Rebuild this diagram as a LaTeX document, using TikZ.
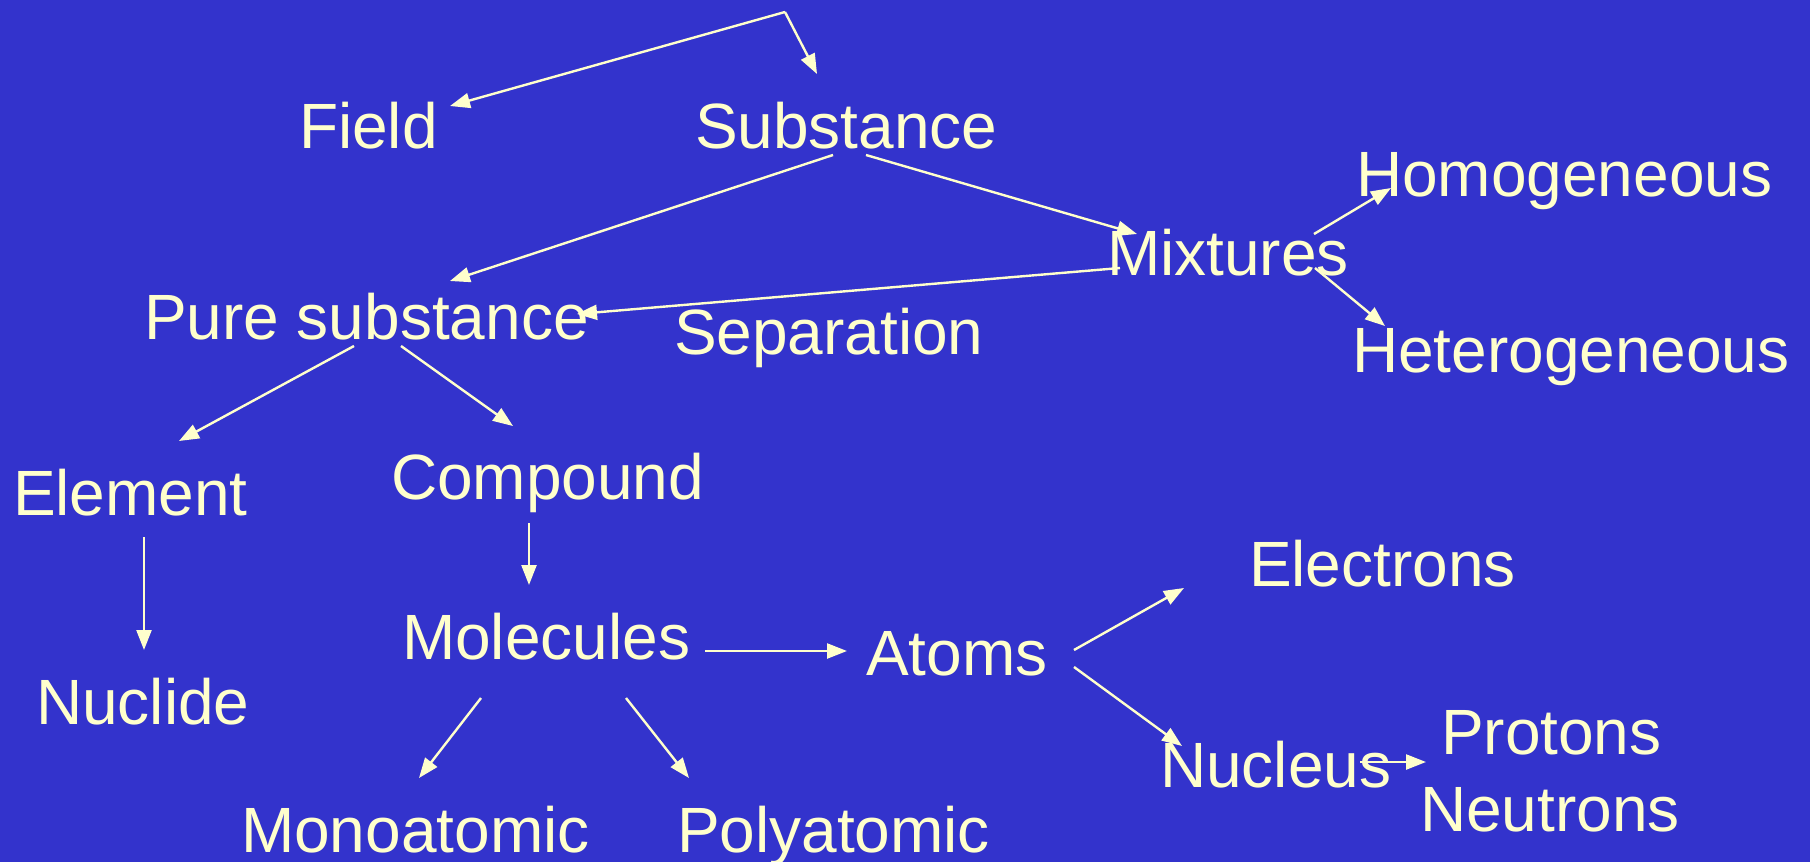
\documentclass[tikz,border=0pt]{standalone}
\usepackage{fontspec}
\setmainfont{Liberation Sans}
\usetikzlibrary{arrows.meta}
\definecolor{bgblue}{HTML}{3333CC}
\definecolor{txtyellow}{HTML}{FFFFCC}
\begin{document}
\begin{tikzpicture}[x=1pt,y=-1pt,
  lbl/.style={anchor=base west,inner sep=0pt,outer sep=0pt,text=txtyellow,
    font=\fontsize{64}{70}\selectfont},
  conn/.style={draw=txtyellow,line width=2.4pt,-{Triangle[length=20pt,width=15pt]}}]
\fill[bgblue] (0,0) rectangle (1810,862);
\useasboundingbox (0,0) rectangle (1810,862);
\node[lbl] (field) at (299,148) {Field};
\node[lbl] (sub) at (695,148) {Substance};
\node[lbl] (homo) at (1356,196) {Homogeneous};
\node[lbl] (mix) at (1107,275) {Mixtures};
\node[lbl] (hetero) at (1352,372) {Heterogeneous};
\node[lbl] (pure) at (144,339) {Pure substance};
\node[lbl] (sep) at (674,354) {Separation};
\node[lbl] (elem) at (13,515) {Element};
\node[lbl] (comp) at (391,499) {Compound};
\node[lbl] (nucl) at (36,724) {Nuclide};
\node[lbl] (mol) at (402,659) {Molecules};
\node[lbl] (atoms) at (866,675) {Atoms};
\node[lbl] (elec) at (1249,586) {Electrons};
\node[lbl] (nucleus) at (1160,787) {Nucleus};
\node[lbl] (prot) at (1441,754) {Protons};
\node[lbl] (neut) at (1420,831) {Neutrons};
\node[lbl] (mono) at (241,852) {Monoatomic};
\node[lbl] (poly) at (677,852) {Polyatomic};
\coordinate (top) at (785,12);
% connectors
\draw[conn] (top) -- ([shift={(151,-42)}]field.base west);
\draw[conn] (top) -- ([shift={(122,-74)}]sub.base west);
\draw[conn] ([shift={(138,7)}]sub.base west) -- ([shift={(306,-58)}]pure.base west);
\draw[conn] ([shift={(171,7)}]sub.base west) -- ([shift={(30,-41)}]mix.base west);
\draw[conn] ([shift={(13,-7)}]mix.base west) -- ([shift={(433,-25)}]pure.base west);
\draw[conn] ([shift={(207,-41)}]mix.base west) -- ([shift={(35,-8)}]homo.base west);
\draw[conn] ([shift={(208,-7)}]mix.base west) -- ([shift={(33,-46)}]hetero.base west);
\draw[conn] ([shift={(210,7)}]pure.base west) -- ([shift={(166,-74)}]elem.base west);
\draw[conn] ([shift={(257,7)}]pure.base west) -- ([shift={(122,-73)}]comp.base west);
\draw[conn] ([shift={(131,22)}]elem.base west) -- ([shift={(108,-74)}]nucl.base west);
\draw[conn] ([shift={(138,24)}]comp.base west) -- ([shift={(127,-74)}]mol.base west);
\draw[conn] ([shift={(303,-8)}]mol.base west) -- ([shift={(-19,-24)}]atoms.base west);
\draw[conn] ([shift={(208,-25)}]atoms.base west) -- ([shift={(-65,2)}]elec.base west);
\draw[conn] ([shift={(208,-8)}]atoms.base west) -- ([shift={(22,-41)}]nucleus.base west);
\draw[conn] ([shift={(200,-25)}]nucleus.base west) -- ([shift={(-15,8)}]prot.base west);
\draw[conn] ([shift={(79,39)}]mol.base west) -- ([shift={(178,-74)}]mono.base west);
\draw[conn] ([shift={(224,39)}]mol.base west) -- ([shift={(12,-74)}]poly.base west);
\end{tikzpicture}
\end{document}
